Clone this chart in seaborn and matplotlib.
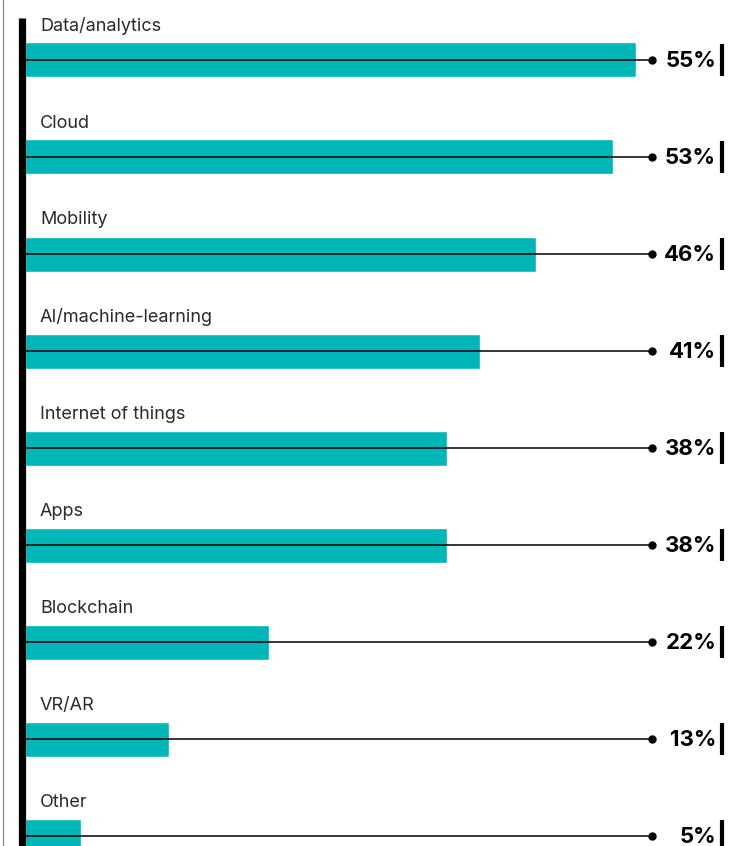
import matplotlib
matplotlib.use("Agg")
import matplotlib.pyplot as plt
import seaborn as sns
import pandas as pd

# --- data ---
categories = ["Data/analytics", "Cloud", "Mobility", "AI/machine-learning",
              "Internet of things", "Apps", "Blockchain", "VR/AR", "Other"]
values = [55, 53, 46, 41, 38, 38, 22, 13, 5]
value_labels = ["55%", "53%", "46%", "41%", "38%", "38%", "22%", "13%", "5%"]

TEAL = "#00B6B6"
PX = 11.1          # pixels per percent point
X0 = 25            # pixel where bars start
ROW0, ROW = 60, 97  # pixel centre of first row, row spacing

def xd(px):
    return (px - X0) / PX

def yd(py):
    return (py - ROW0) / ROW

sns.set_theme(style="white")
plt.rcParams["font.family"] = ["Inter", "DejaVu Sans"]

df = pd.DataFrame({"category": categories, "value": values})

fig = plt.figure(figsize=(7.31, 8.46), dpi=100)
ax = fig.add_axes([0, 0, 1, 1])

sns.barplot(data=df, x="value", y="category", orient="h", color=TEAL,
            saturation=1, width=35 / ROW, ax=ax)

for i, (cat, lab) in enumerate(zip(categories, value_labels)):
    # leader line and dot
    ax.plot([xd(20), xd(652)], [i, i], color="black", lw=1.1, zorder=3)
    ax.plot(xd(652), i, "o", color="black", ms=5, zorder=4)
    # category label above bar
    ax.text(xd(40), i - 34 / ROW, cat, fontsize=13, color="#2a2a2a",
            ha="left", va="center")
    # value label
    ax.text(xd(716), i + 1 / ROW, lab, fontsize=16, fontweight="bold",
            color="black", ha="right", va="center")
    # right end tick
    ax.plot([xd(722), xd(722)], [i - 16 / ROW, i + 16 / ROW], color="black",
            lw=3, solid_capstyle="butt", zorder=4)

# thick black axis on the left
ax.plot([xd(21.5), xd(21.5)], [yd(18), yd(900)], color="black", lw=5.2,
        solid_capstyle="butt", zorder=5)
# faint grey frame line at far left
ax.plot([xd(3), xd(3)], [yd(0), yd(900)], color="#888888", lw=0.9, zorder=5)

ax.set_xlim(xd(0), xd(731))
ax.set_ylim(yd(846), yd(0))
ax.set_axis_off()

fig.savefig("out.png", dpi=100)
